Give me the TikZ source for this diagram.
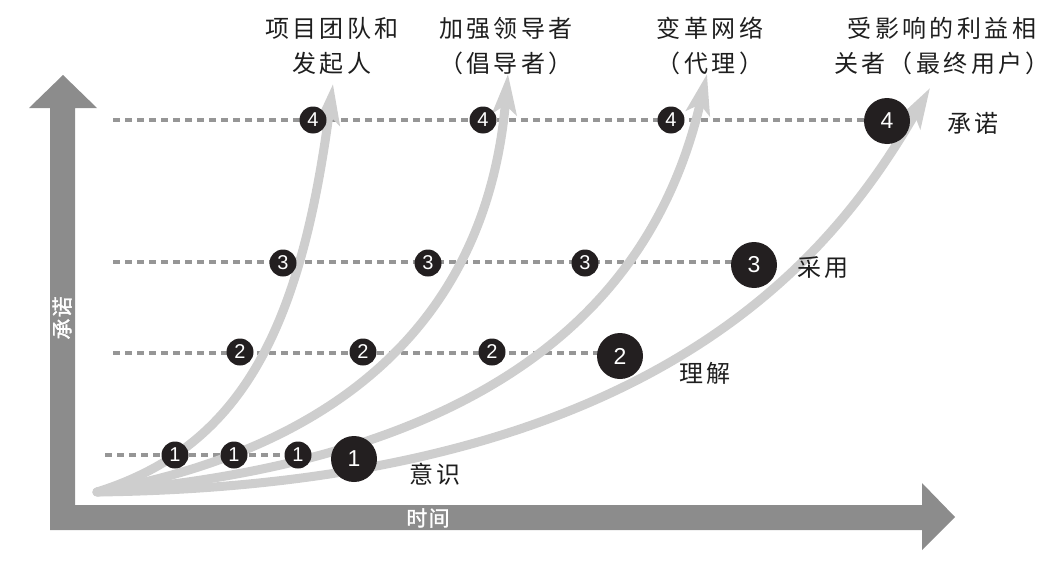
\documentclass[tikz,border=0pt]{standalone}
\usepackage{fontspec}
\setmainfont{Liberation Sans}
\newfontfamily\cjk{Noto Sans CJK SC}[LetterSpace=14]
\newfontfamily\cjkaxis{Noto Sans CJK SC}[LetterSpace=6,FakeBold=1.5]
\usetikzlibrary{arrows.meta}
\definecolor{axisgray}{RGB}{140,140,140}
\definecolor{curvegray}{RGB}{206,206,206}
\definecolor{dashgray}{RGB}{150,150,150}
\definecolor{dotblack}{RGB}{35,31,32}
\definecolor{txt}{RGB}{30,30,30}
\tikzset{
  lvl/.style={draw=dashgray, line width=3.2pt, dash pattern=on 7pt off 5pt},
  growth/.style={draw=curvegray, line width=9pt, line cap=round,
    -{Stealth[length=40pt,width=24pt,inset=9pt]}},
  sdot/.style={circle, fill=dotblack, minimum size=27pt, inner sep=0pt,
    text=white, font=\fontsize{20}{20}\selectfont},
  bdot/.style={circle, fill=dotblack, minimum size=46pt, inner sep=0pt,
    text=white, font=\fontsize{23}{23}\selectfont},
  lab/.style={text=txt, font=\cjk\fontsize{24}{35}\selectfont, align=center, inner sep=0pt},
  axislab/.style={text=white, font=\cjkaxis\fontsize{21}{21}\selectfont, inner sep=0pt}
}
\begin{document}
\begin{tikzpicture}[x=1pt,y=-1pt]
\useasboundingbox (0,0) rectangle (1061,562);
% axes
\fill[axisgray] (50,530) -- (50,108) -- (29,108) -- (63,75) -- (97,108) -- (75,108)
  -- (75,505) -- (922,505) -- (922,483) -- (955,517) -- (922,550) -- (922,530) -- cycle;
\node[axislab, rotate=90] (yl) at (62,318) {承诺};
\node[axislab] (xl) at (428,518) {时间};
% level coordinates
\coordinate (s4) at (113,120);
\coordinate (s3) at (113,262);
\coordinate (s2) at (113,353);
\coordinate (s1) at (105,455);
\path (887,121) coordinate (b4c) (754,265) coordinate (b3c) (620,356) coordinate (b2c) (354,459) coordinate (b1c);
\draw[lvl] (s4) -- (b4c |- s4);
\draw[lvl] (s3) -- (b3c |- s3);
\draw[lvl] (s2) -- (b2c |- s2);
\draw[lvl] (s1) -- (b1c |- s1);
% growth curves
\coordinate (o) at (97,492);
\coordinate (t1) at (333,84);
\coordinate (t2) at (508,74);
\coordinate (t3) at (707,74);
\coordinate (t4) at (930,88);
\draw[growth] (o) .. controls (240,447) and (300,332) .. (t1);
\draw[growth] (o) .. controls (320,452) and (485,335) .. (t2);
\draw[growth] (o) .. controls (470,462) and (650,320) .. (t3);
\draw[growth] (o) .. controls (650,485) and (830,261) .. (t4);
% small circles
\node[sdot] (a4) at (313,120) {4};
\node[sdot] (c4) at (483,120) {4};
\node[sdot] (d4) at (671,120) {4};
\node[sdot] (a3) at (283,263) {3};
\node[sdot] (c3) at (428,263) {3};
\node[sdot] (d3) at (585,263) {3};
\node[sdot] (a2) at (240,352) {2};
\node[sdot] (c2) at (363,352) {2};
\node[sdot] (d2) at (492,352) {2};
\node[sdot] (a1) at (175,455) {1};
\node[sdot] (c1) at (234,455) {1};
\node[sdot] (d1) at (298,455) {1};
% big circles
\node[bdot] (b4) at (b4c) {4};
\node[bdot] (b3) at (b3c) {3};
\node[bdot] (b2) at (b2c) {2};
\node[bdot] (b1) at (b1c) {1};
% stage labels
\node[lab] (l4) at (973,123) {承诺};
\node[lab] (l3) at (823,268) {采用};
\node[lab] (l2) at (705,373) {理解};
\node[lab] (l1) at (435,474) {意识};
% group labels
\node[lab] (g1) at (332,46) {项目团队和\\发起人};
\node[lab] (g2) at (506,46) {加强领导者\\（倡导者）};
\node[lab] (g3) at (710,46) {变革网络\\（代理）};
\node[lab] (g4) at (942,46) {受影响的利益相\\关者（最终用户）};
\end{tikzpicture}
\end{document}
